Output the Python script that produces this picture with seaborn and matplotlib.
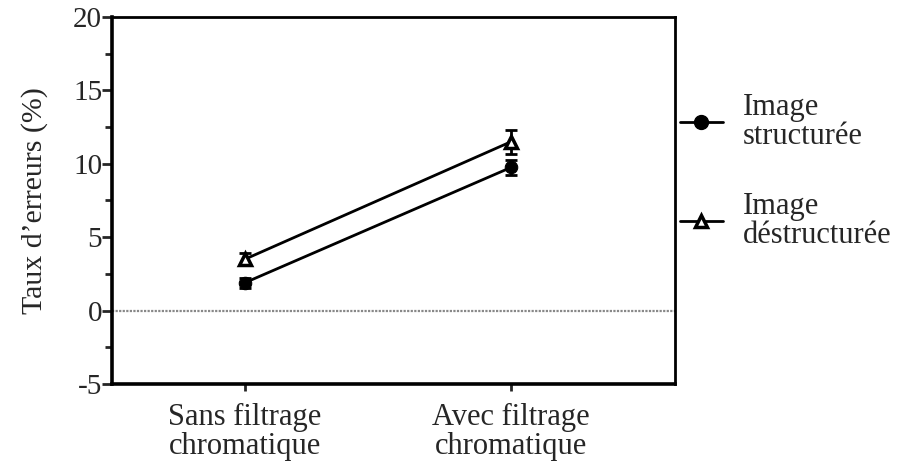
import matplotlib
matplotlib.use("Agg")
import matplotlib.pyplot as plt
import seaborn as sns
import pandas as pd
import numpy as np
from matplotlib.ticker import MultipleLocator
from matplotlib.lines import Line2D

sns.set_style("ticks")
plt.rcParams['font.family'] = ['Liberation Serif', 'DejaVu Serif']

categories = ["Sans filtrage\nchromatique", "Avec filtrage\nchromatique"]
series = ["Image\nstructurée", "Image\ndéstructurée"]
structuree = [1.9, 9.75]
structuree_err = [0.35, 0.5]
destructuree = [3.5, 11.5]
destructuree_err = [0.4, 0.8]

rows = []
for i, c in enumerate(categories):
    rows.append({"pos": i, "cat": c, "serie": series[0], "val": structuree[i], "err": structuree_err[i]})
    rows.append({"pos": i, "cat": c, "serie": series[1], "val": destructuree[i], "err": destructuree_err[i]})
df = pd.DataFrame(rows)

fig = plt.figure(figsize=(9, 4.68), dpi=100)
ax = fig.add_axes([0.1244, 0.1795, 0.6256, 0.7842])

ax.axhline(0, color="#888888", lw=1.6, ls=(0, (1, 0.6)), zorder=1)

for s in series:
    d = df[df["serie"] == s]
    ax.errorbar(d["pos"], d["val"], yerr=d["err"], fmt="none", ecolor="black",
                elinewidth=2, capsize=4, capthick=2, zorder=2)

sns.lineplot(data=df[df["serie"] == series[0]], x="pos", y="val", ax=ax, color="black",
             lw=2, marker="o", markersize=9, markerfacecolor="black", markeredgecolor="black",
             legend=False, zorder=3)
sns.lineplot(data=df[df["serie"] == series[1]], x="pos", y="val", ax=ax, color="black",
             lw=2, marker="^", markersize=9, markerfacecolor="white", markeredgecolor="black",
             markeredgewidth=2.5, legend=False, zorder=3)

ax.set_xlim(-0.5, 1.617)
ax.set_ylim(-5, 20)
ax.set_xticks([0, 1])
ax.set_xticklabels(categories, fontsize=22, linespacing=0.98)
ax.yaxis.set_minor_locator(MultipleLocator(2.5))
ax.set_yticks([-5, 0, 5, 10, 15, 20])
ax.set_yticklabels(["-5", "0", "5", "10", "15", "20"], fontsize=21)
ax.tick_params(axis="y", which="major", length=7, width=2, pad=0, direction="out")
ax.tick_params(axis="y", which="minor", length=5, width=2, direction="out")
ax.tick_params(axis="x", length=5, width=2, pad=9, direction="out")
ax.set_xlabel("")
ax.set_ylabel("Taux d\u2019erreurs (%)", fontsize=21.5, labelpad=18)

for side in ["left", "bottom"]:
    ax.spines[side].set_linewidth(2.6)
for side in ["top", "right"]:
    ax.spines[side].set_visible(True)
    ax.spines[side].set_linewidth(2)
for sp in ax.spines.values():
    sp.set_color("black")

handles = [
    Line2D([], [], color="black", lw=2, marker="o", markersize=10, markerfacecolor="black"),
    Line2D([], [], color="black", lw=2, marker="^", markersize=9, markerfacecolor="white",
           markeredgewidth=2.5),
]
leg = fig.legend(handles, series, loc="upper left", bbox_to_anchor=(0.7556, 0.802),
                 frameon=False, fontsize=22, handlelength=1.4, labelspacing=1.35,
                 handletextpad=0.65, borderaxespad=0, borderpad=0)
for t in leg.get_texts():
    t.set_linespacing(1.0)

fig.savefig("out.png", dpi=100)
